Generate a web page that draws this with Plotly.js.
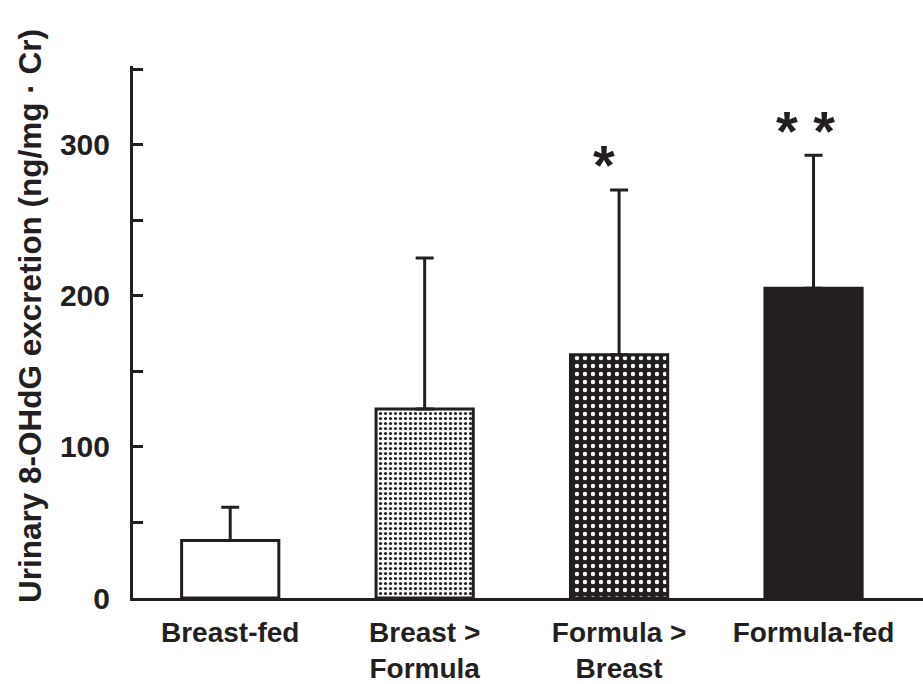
<!DOCTYPE html>
<html>
<head>
<meta charset="utf-8">
<script src="https://cdn.plot.ly/plotly-3.0.1.min.js"></script>
<style>html,body{margin:0;padding:0;background:#fff;}#chart{width:923px;height:684px;}</style>
</head>
<body>
<div id="chart"></div>
<script>
const categories = ["Breast-fed", "Breast ><br>Formula", "Formula ><br>Breast", "Formula-fed"];
const means = [38, 125, 161, 205];
const sdUpper = [22, 100, 109, 88];
const fillColors = ["#ffffff", "#ffffff", "#231f20", "#231f20"];
const patternShapes = ["", ".", ".", ""];
const patternFg = ["#231f20", "#231f20", "#ffffff", "#231f20"];
const patternSize = [6, 5, 8, 6];
const patternSolidity = [0.3, 0.32, 0.24, 0.3];
const yTickVals = [0, 50, 100, 150, 200, 250, 300, 350];
const yTickText = ["0", "", "100", "", "200", "", "300", ""];
const sigLabels = ["", "", "*", "* *"];
const sigY = [0, 0, 287, 309];
const sigXShift = [0, 0, -0.08, -0.04];

const ink = "#231f20";
const font = "Liberation Sans, Arial, sans-serif";

const traces = categories.map((c, i) => {
  const marker = {
    color: fillColors[i],
    line: {color: ink, width: 3}
  };
  if (patternShapes[i]) {
    marker.pattern = {
      shape: patternShapes[i],
      fgcolor: patternFg[i],
      bgcolor: fillColors[i],
      size: patternSize[i],
      solidity: patternSolidity[i],
      fillmode: "replace"
    };
  }
  return {
    type: "bar",
    x: [c],
    y: [means[i]],
    width: 0.5,
    marker: marker,
    error_y: {
      type: "data",
      symmetric: false,
      array: [sdUpper[i]],
      arrayminus: [0],
      color: ink,
      thickness: 3,
      width: 9
    },
    hoverinfo: "skip"
  };
});

const annotations = [];
for (let i = 0; i < categories.length; i++) {
  if (sigLabels[i]) {
    annotations.push({
      x: i + sigXShift[i], y: sigY[i], xref: "x", yref: "y",
      text: sigLabels[i], showarrow: false,
      font: {family: font, size: 56, color: ink, weight: "bold"},
      xanchor: "center", yanchor: "middle"
    });
  }
}
const plotH = 684 - 66 - 86, plotW = 923 - 133;
annotations.push({
  x: (30 - 133) / plotW, xref: "paper", xanchor: "center",
  y: (684 - 86 - 316) / plotH, yref: "paper", yanchor: "middle",
  text: "Urinary 8-OHdG excretion (ng/mg · Cr)",
  textangle: -90, showarrow: false,
  font: {family: font, size: 31.5, color: ink, weight: "bold"}
});

const layout = {
  width: 923, height: 684,
  margin: {l: 133, r: 0, t: 66, b: 86, pad: 0},
  paper_bgcolor: "#ffffff", plot_bgcolor: "#ffffff",
  showlegend: false,
  barmode: "overlay",
  font: {family: font, color: ink, size: 28},
  xaxis: {
    type: "category",
    range: [-0.5, 3.563],
    showline: true, linecolor: ink, linewidth: 3,
    ticks: "", showgrid: false, zeroline: false,
    ticklabelstandoff: 7,
    tickfont: {family: font, size: 28, color: ink, weight: "bold"},
    fixedrange: true
  },
  yaxis: {
    range: [0, 352],
    showline: true, linecolor: ink, linewidth: 3,
    ticks: "inside", ticklen: 10, tickwidth: 3, tickcolor: ink,
    tickvals: yTickVals, ticktext: yTickText,
    showgrid: false, zeroline: false,
    ticklabelstandoff: 14,
    tickfont: {family: font, size: 30, color: ink, weight: "bold"},
    fixedrange: true
  },
  annotations: annotations
};

Plotly.newPlot("chart", traces, layout, {displayModeBar: false, staticPlot: true});
</script>
</body>
</html>
